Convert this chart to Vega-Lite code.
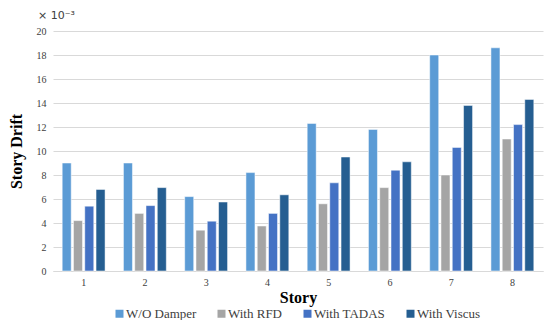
{
  "$schema": "https://vega.github.io/schema/vega-lite/v6.json",
  "width": 490,
  "height": 240,
  "autosize": {"type": "none"},
  "padding": {"left": 53, "top": 31, "right": 1, "bottom": 49},
  "background": "white",
  "title": {
    "text": "× 10⁻³",
    "anchor": "start",
    "frame": "group",
    "dx": -15,
    "offset": 5,
    "font": "DejaVu Sans",
    "fontSize": 11,
    "fontWeight": "normal",
    "color": "#404040"
  },
  "data": {
    "values": [
      {"story": "1", "type": "W/O Damper", "drift": 9.0},
      {"story": "1", "type": "With RFD", "drift": 4.2},
      {"story": "1", "type": "With TADAS", "drift": 5.4},
      {"story": "1", "type": "With Viscus", "drift": 6.8},
      {"story": "2", "type": "W/O Damper", "drift": 9.0},
      {"story": "2", "type": "With RFD", "drift": 4.8},
      {"story": "2", "type": "With TADAS", "drift": 5.45},
      {"story": "2", "type": "With Viscus", "drift": 6.95},
      {"story": "3", "type": "W/O Damper", "drift": 6.2},
      {"story": "3", "type": "With RFD", "drift": 3.4},
      {"story": "3", "type": "With TADAS", "drift": 4.15},
      {"story": "3", "type": "With Viscus", "drift": 5.75},
      {"story": "4", "type": "W/O Damper", "drift": 8.2},
      {"story": "4", "type": "With RFD", "drift": 3.75},
      {"story": "4", "type": "With TADAS", "drift": 4.8},
      {"story": "4", "type": "With Viscus", "drift": 6.35},
      {"story": "5", "type": "W/O Damper", "drift": 12.3},
      {"story": "5", "type": "With RFD", "drift": 5.6},
      {"story": "5", "type": "With TADAS", "drift": 7.35},
      {"story": "5", "type": "With Viscus", "drift": 9.5},
      {"story": "6", "type": "W/O Damper", "drift": 11.8},
      {"story": "6", "type": "With RFD", "drift": 6.95},
      {"story": "6", "type": "With TADAS", "drift": 8.4},
      {"story": "6", "type": "With Viscus", "drift": 9.1},
      {"story": "7", "type": "W/O Damper", "drift": 18.0},
      {"story": "7", "type": "With RFD", "drift": 8.0},
      {"story": "7", "type": "With TADAS", "drift": 10.3},
      {"story": "7", "type": "With Viscus", "drift": 13.8},
      {"story": "8", "type": "W/O Damper", "drift": 18.6},
      {"story": "8", "type": "With RFD", "drift": 11.0},
      {"story": "8", "type": "With TADAS", "drift": 12.2},
      {"story": "8", "type": "With Viscus", "drift": 14.3}
    ]
  },
  "mark": {"type": "bar", "stroke": "white", "strokeWidth": 1, "strokeOpacity": 0.5},
  "encoding": {
    "x": {
      "field": "story",
      "type": "nominal",
      "scale": {"paddingInner": 0.3, "paddingOuter": 0.15},
      "axis": {
        "title": "Story",
        "titleFont": "Liberation Serif",
        "titleFontSize": 16,
        "titleFontWeight": "bold",
        "titleColor": "#000000",
        "titlePadding": 2,
        "labelFont": "Liberation Serif",
        "labelFontSize": 10,
        "labelColor": "#404040",
        "labelAngle": 0,
        "labelPadding": 6,
        "ticks": false,
        "domainColor": "#D9D9D9",
        "domainWidth": 1
      }
    },
    "xOffset": {
      "field": "type",
      "type": "nominal",
      "scale": {"paddingInner": 0.2}
    },
    "y": {
      "field": "drift",
      "type": "quantitative",
      "scale": {"domain": [0, 20]},
      "axis": {
        "title": "Story Drift",
        "titleFont": "Liberation Serif",
        "titleFontSize": 16,
        "titleFontWeight": "bold",
        "titleColor": "#000000",
        "titlePadding": 12,
        "values": [0, 2, 4, 6, 8, 10, 12, 14, 16, 18, 20],
        "labelFont": "Liberation Serif",
        "labelFontSize": 10,
        "labelColor": "#404040",
        "labelPadding": 7,
        "ticks": false,
        "domain": false,
        "gridColor": "#D9D9D9",
        "gridWidth": 1
      }
    },
    "color": {
      "field": "type",
      "type": "nominal",
      "scale": {
        "domain": ["W/O Damper", "With RFD", "With TADAS", "With Viscus"],
        "range": ["#5B9BD5", "#A5A5A5", "#4472C4", "#255E91"]
      },
      "legend": {
        "title": null,
        "orient": "none",
        "legendX": 60,
        "legendY": 276,
        "direction": "horizontal",
        "symbolType": "square",
        "symbolSize": 64,
        "symbolStrokeWidth": 0,
        "labelFont": "Liberation Serif",
        "labelFontSize": 13,
        "labelColor": "#404040",
        "labelOffset": 0,
        "columnPadding": 18
      }
    }
  },
  "config": {"view": {"stroke": null}}
}
